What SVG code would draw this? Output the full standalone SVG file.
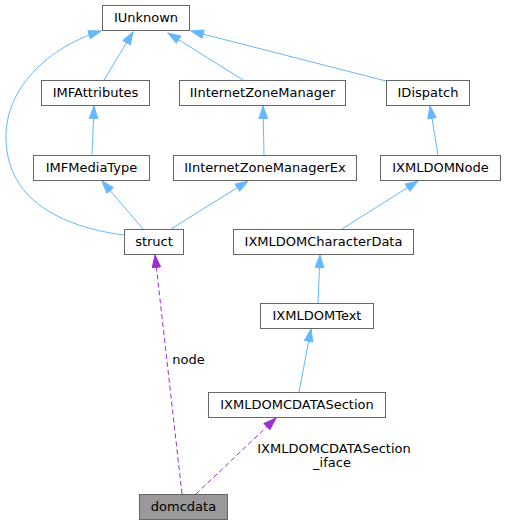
<svg xmlns="http://www.w3.org/2000/svg" width="506" height="525" viewBox="0 0 506 525">
<defs>
<style>
.n rect{fill:#fff;stroke:#666;stroke-width:1}
.n text,.lbl{font-family:"DejaVu Sans",sans-serif;font-size:13px;fill:#000;text-anchor:middle}
.e{fill:none;stroke:#63b8ff;stroke-width:1}
.d{fill:none;stroke:#9a32cd;stroke-width:1;stroke-dasharray:5,3}
</style>
<marker id="ab" markerWidth="14" markerHeight="10" refX="13" refY="4.75" orient="auto" markerUnits="userSpaceOnUse"><path d="M0.5,0.5 L13,4.75 L0.5,9 z" fill="#63b8ff" stroke="#63b8ff"/></marker>
<marker id="ap" markerWidth="14" markerHeight="10" refX="13" refY="4.75" orient="auto" markerUnits="userSpaceOnUse"><path d="M0.5,0.5 L13,4.75 L0.5,9 z" fill="#9a32cd" stroke="#9a32cd"/></marker>
</defs>
<rect width="506" height="525" fill="#fff"/>
<g id="edges">
<path class="e" d="M104,80 L133,32" marker-end="url(#ab)"/>
<path class="e" d="M243,80 L168,33" marker-end="url(#ab)"/>
<path class="e" d="M386,81 L191,31" marker-end="url(#ab)"/>
<path class="e" d="M124,235 C70,228 8,205 6,140 C4,95 40,50 101,31" marker-end="url(#ab)"/>
<path class="e" d="M92,154 L94,106" marker-end="url(#ab)"/>
<path class="e" d="M143,229 L102,181" marker-end="url(#ab)"/>
<path class="e" d="M171,229 L248,181" marker-end="url(#ab)"/>
<path class="e" d="M264,155 L263,106" marker-end="url(#ab)"/>
<path class="e" d="M438,155 L430,106" marker-end="url(#ab)"/>
<path class="e" d="M342,229 L418,181" marker-end="url(#ab)"/>
<path class="e" d="M318,303 L320,255" marker-end="url(#ab)"/>
<path class="e" d="M299,392 L311,329" marker-end="url(#ab)"/>
<path class="d" d="M182,494 L155,255" marker-end="url(#ap)"/>
<path class="d" d="M196,494 L276,418" marker-end="url(#ap)"/>
<text class="lbl" x="188.5" y="364">node</text>
<text class="lbl" x="334" y="453">IXMLDOMCDATASection</text>
<text class="lbl" x="332" y="467">_iface</text>
</g>
<g id="IUnknown" class="n"><rect x="102.5" y="5.5" width="87" height="25"/><text x="146" y="22">IUnknown</text></g>
<g id="IMFAttributes" class="n"><rect x="41.5" y="80.5" width="108" height="25"/><text x="95.5" y="97">IMFAttributes</text></g>
<g id="IInternetZoneManager" class="n"><rect x="179.5" y="80.5" width="166" height="25"/><text x="262.5" y="97">IInternetZoneManager</text></g>
<g id="IDispatch" class="n"><rect x="386.5" y="80.5" width="83" height="25"/><text x="428" y="97">IDispatch</text></g>
<g id="IMFMediaType" class="n"><rect x="33.5" y="155.5" width="116" height="25"/><text x="91.5" y="172">IMFMediaType</text></g>
<g id="IInternetZoneManagerEx" class="n"><rect x="173.5" y="155.5" width="183" height="25"/><text x="265" y="172">IInternetZoneManagerEx</text></g>
<g id="IXMLDOMNode" class="n"><rect x="380.5" y="155.5" width="120" height="25"/><text x="440.5" y="172">IXMLDOMNode</text></g>
<g id="struct" class="n"><rect x="124.5" y="229.5" width="59" height="25"/><text x="154" y="246">struct</text></g>
<g id="IXMLDOMCharacterData" class="n"><rect x="233.5" y="229.5" width="180" height="25"/><text x="323.5" y="246">IXMLDOMCharacterData</text></g>
<g id="IXMLDOMText" class="n"><rect x="260.5" y="303.5" width="113" height="25"/><text x="317" y="320">IXMLDOMText</text></g>
<g id="IXMLDOMCDATASection" class="n"><rect x="208.5" y="392.5" width="177" height="25"/><text x="297" y="409">IXMLDOMCDATASection</text></g>
<g id="domcdata" class="n"><rect x="139.5" y="494.5" width="88" height="25" style="fill:#999"/><text x="183.5" y="511">domcdata</text></g>
</svg>
